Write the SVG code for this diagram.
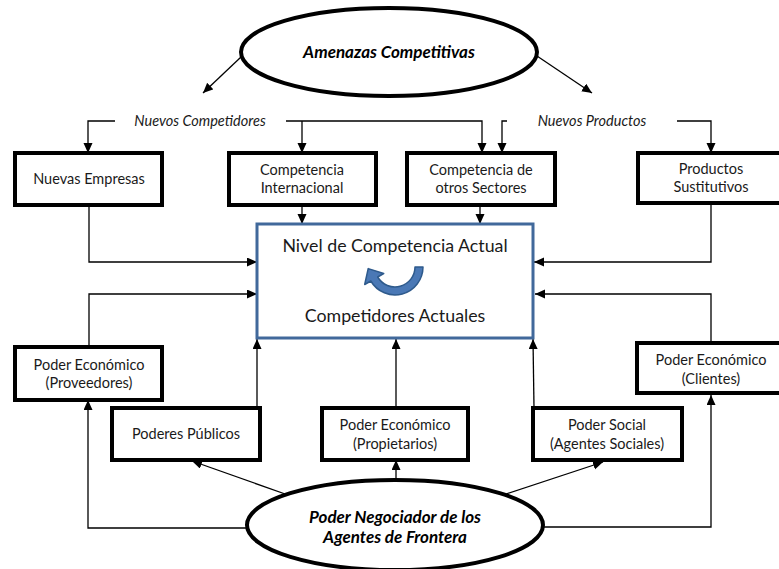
<svg xmlns="http://www.w3.org/2000/svg" width="779" height="569" viewBox="0 0 779 569">
  <style>
    .box { fill: #ffffff; stroke: #000000; stroke-width: 4; }
    .oval { fill: #ffffff; stroke: #000000; stroke-width: 4; }
    .core { fill: #ffffff; stroke: #41699b; stroke-width: 3; }
    .lbl { font-family: Lato, "Open Sans", sans-serif; font-size: 14.5px; fill: #1a1a1a; text-anchor: middle; }
    .big { font-family: Lato, "Open Sans", sans-serif; font-size: 17.8px; fill: #1a1a1a; text-anchor: middle; }
    .it { font-family: Lato, "Open Sans", sans-serif; font-size: 14.5px; font-style: italic; fill: #1a1a1a; text-anchor: middle; }
    .bi { font-family: Lato, "Open Sans", sans-serif; font-size: 17px; font-style: italic; font-weight: bold; fill: #000000; text-anchor: middle; }
    .wire { fill: none; stroke: #000000; stroke-width: 1.3; marker-end: url(#head); }
  </style>
  <defs>
    <marker id="head" markerUnits="userSpaceOnUse" markerWidth="11" markerHeight="10" refX="10" refY="4.5" orient="auto">
      <path d="M0,0 L10,4.5 L0,9 z" fill="#000000"/>
    </marker>
  </defs>

  <rect x="0" y="0" width="779" height="569" fill="#ffffff"/>

  <!-- connectors -->
  <g id="connectors">
    <path class="wire" d="M241,57 L203,93"/>
    <path class="wire" d="M537,56 L592,93"/>
    <path class="wire" d="M115,121 H88 V153"/>
    <path class="wire" d="M286,121 H482 V153"/>
    <path class="wire" d="M302,121 V153"/>
    <path class="wire" d="M507,121 H502 V153"/>
    <path class="wire" d="M677,121 H711 V153"/>
    <path class="wire" d="M302,205 V224"/>
    <path class="wire" d="M480,205 V224"/>
    <path class="wire" d="M89,205 V262 H257"/>
    <path class="wire" d="M711,203 V262 H534"/>
    <path class="wire" d="M89,347 V294 H257"/>
    <path class="wire" d="M711,343 V294 H535"/>
    <path class="wire" d="M257,408 V339"/>
    <path class="wire" d="M396,408 V339"/>
    <path class="wire" d="M534,408 L533,339"/>
    <path class="wire" d="M396,480 V460"/>
    <path class="wire" d="M288,495 L192,461"/>
    <path class="wire" d="M503,495 L603,462"/>
    <path class="wire" d="M247,528 H88 V400"/>
    <path class="wire" d="M543,527 H711 V395"/>
  </g>

  <!-- threat sources -->
  <g id="amenazas">
    <ellipse class="oval" cx="389" cy="52" rx="148" ry="44"/>
    <text class="bi" x="389" y="58">Amenazas Competitivas</text>
  </g>
  <g id="nuevos-competidores">
    <text class="it" x="200" y="126">Nuevos Competidores</text>
  </g>
  <g id="nuevos-productos">
    <text class="it" x="592" y="126">Nuevos Productos</text>
  </g>

  <!-- first row -->
  <g id="nuevas-empresas">
    <rect class="box" x="15" y="153" width="147" height="52"/>
    <text class="lbl" x="89" y="184">Nuevas Empresas</text>
  </g>
  <g id="competencia-internacional">
    <rect class="box" x="229" y="153" width="147" height="52"/>
    <text class="lbl" x="302" y="175">Competencia</text>
    <text class="lbl" x="302" y="193">Internacional</text>
  </g>
  <g id="competencia-sectores">
    <rect class="box" x="407" y="153" width="148" height="52"/>
    <text class="lbl" x="481" y="175">Competencia de</text>
    <text class="lbl" x="481" y="193">otros Sectores</text>
  </g>
  <g id="productos-sustitutivos">
    <rect class="box" x="638" y="153" width="150" height="50"/>
    <text class="lbl" x="711" y="174">Productos</text>
    <text class="lbl" x="711" y="192">Sustitutivos</text>
  </g>

  <!-- current competition -->
  <g id="competencia-actual">
    <rect class="core" x="257" y="224" width="276" height="114"/>
    <text class="big" x="395" y="252">Nivel de Competencia Actual</text>
    <path d="M423,267 A28,28 0 0 1 370.8,281 L364.7,284.5 L368.2,268.6 L383.7,273.5 L377.7,277 A20,20 0 0 0 415,267 Z" fill="#4a78b5" stroke="#2e5a8c" stroke-width="1.5" stroke-linejoin="round"/>
    <text class="big" x="395" y="322">Competidores Actuales</text>
  </g>

  <!-- second row -->
  <g id="proveedores">
    <rect class="box" x="15" y="347" width="147" height="53"/>
    <text class="lbl" x="89" y="370">Poder Económico</text>
    <text class="lbl" x="89" y="388">(Proveedores)</text>
  </g>
  <g id="clientes">
    <rect class="box" x="637" y="343" width="150" height="50"/>
    <text class="lbl" x="711" y="365">Poder Económico</text>
    <text class="lbl" x="711" y="384">(Clientes)</text>
  </g>
  <g id="poderes-publicos">
    <rect class="box" x="112" y="408" width="148" height="52"/>
    <text class="lbl" x="186" y="439">Poderes Públicos</text>
  </g>
  <g id="propietarios">
    <rect class="box" x="322" y="408" width="146" height="52"/>
    <text class="lbl" x="395" y="430">Poder Económico</text>
    <text class="lbl" x="395" y="449">(Propietarios)</text>
  </g>
  <g id="poder-social">
    <rect class="box" x="533" y="408" width="149" height="52"/>
    <text class="lbl" x="607" y="430">Poder Social</text>
    <text class="lbl" x="607" y="449">(Agentes Sociales)</text>
  </g>

  <!-- bargaining power -->
  <g id="poder-negociador">
    <ellipse class="oval" cx="395" cy="525" rx="148" ry="45"/>
    <text class="bi" x="395" y="523">Poder Negociador de los</text>
    <text class="bi" x="395" y="543">Agentes de Frontera</text>
  </g>
</svg>
